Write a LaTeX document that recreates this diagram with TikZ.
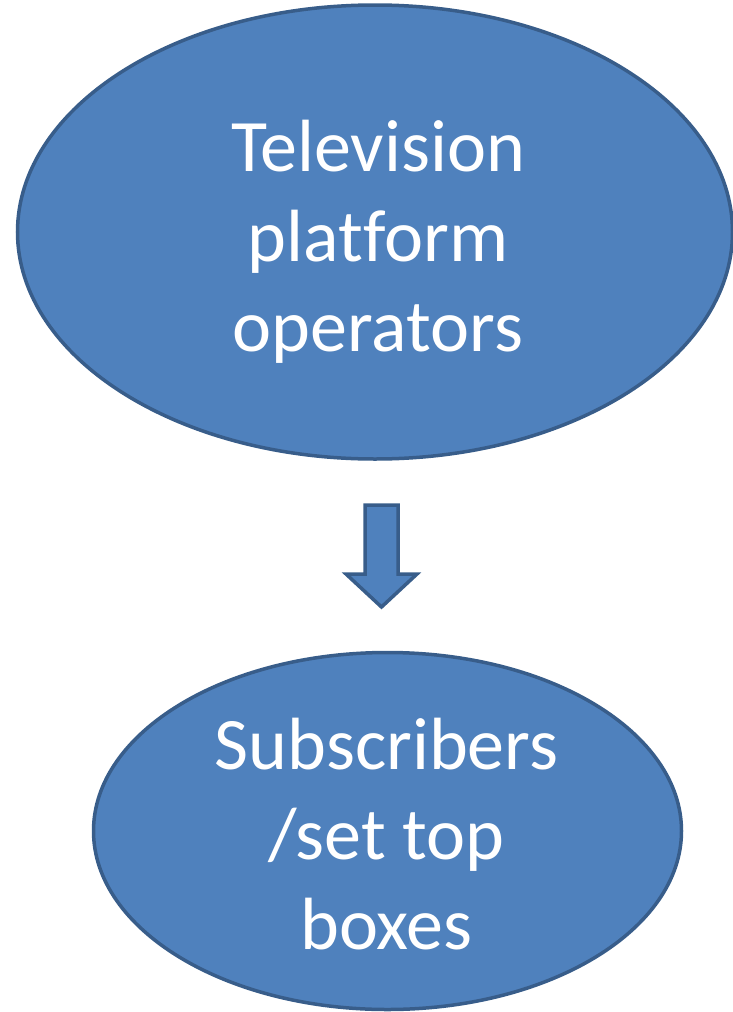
\documentclass[tikz,border=0pt]{standalone}
\usepackage{fontspec}
\setmainfont[Ligatures={NoCommon}]{Carlito}
\usetikzlibrary{shapes.geometric,calc}
\definecolor{fillblue}{HTML}{4F81BD}
\definecolor{edgeblue}{HTML}{385D8A}
\tikzset{
  bubble/.style={ellipse, draw=edgeblue, fill=fillblue, line width=3.5pt, inner sep=0pt},
  bubbletext/.style={text=white, align=center, inner sep=0pt, font=\fontsize{74}{90}\selectfont},
  blockarrow/.style={draw=edgeblue, fill=fillblue, line width=3.5pt, line join=miter}
}
\begin{document}
\begin{tikzpicture}[x=1pt,y=-1pt]
\useasboundingbox (0,0) rectangle (732,1012);
\node[bubble, minimum width=715pt, minimum height=454pt] (top) at (375,232) {};
\node[bubbletext] (toptext) at ($(top.center)+(3,10)$) {Television\\platform\\operators};
\node[bubble, minimum width=588pt, minimum height=357pt] (bottom) at (387.5,831) {};
\node[bubbletext] (bottomtext) at ($(bottom.center)+(-1,3)$) {Subscribers\\/set top\\boxes};
\draw[blockarrow] (365,505) -- (398,505) -- (398,574) -- (417,574) -- (381.5,607)
  -- (346,574) -- (365,574) -- cycle;
\end{tikzpicture}
\end{document}
